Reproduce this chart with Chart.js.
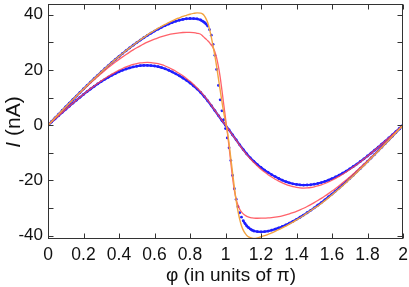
<!DOCTYPE html>
<html>
<head>
<meta charset="utf-8">
<script src="https://cdn.jsdelivr.net/npm/chart.js@4/dist/chart.umd.min.js"></script>
<style>
  html, body { margin: 0; padding: 0; background: #fff; }
</style>
</head>
<body>
<canvas id="cpr" width="409" height="287"></canvas>
<script>
// phase grid for the two large curves (finer around the jump at phi = 1)
const phiFine = [
  0, 0.02, 0.04, 0.06, 0.08, 0.1, 0.12, 0.14, 0.16, 0.18,
  0.2, 0.22, 0.24, 0.26, 0.28, 0.3, 0.32, 0.34, 0.36, 0.38,
  0.4, 0.42, 0.44, 0.46, 0.48, 0.5, 0.52, 0.54, 0.56, 0.58,
  0.6, 0.62, 0.64, 0.66, 0.68, 0.7, 0.72, 0.74, 0.76, 0.78,
  0.8, 0.82, 0.84, 0.86,
  0.87, 0.88, 0.89, 0.9, 0.91, 0.92, 0.93, 0.94, 0.95, 0.96,
  0.97, 0.98, 0.99, 1, 1.01, 1.02, 1.03, 1.04, 1.05, 1.06,
  1.07, 1.08, 1.09, 1.1, 1.11, 1.12, 1.13, 1.14, 1.15,
  1.16, 1.18, 1.2, 1.22, 1.24, 1.26, 1.28, 1.3, 1.32, 1.34,
  1.36, 1.38, 1.4, 1.42, 1.44, 1.46, 1.48, 1.5, 1.52, 1.54,
  1.56, 1.58, 1.6, 1.62, 1.64, 1.66, 1.68, 1.7, 1.72, 1.74,
  1.76, 1.78, 1.8, 1.82, 1.84, 1.86, 1.88, 1.9, 1.92, 1.94,
  1.96, 1.98, 2
];

// phase grid for the two small curves
const phiCoarse = [
  0, 0.02, 0.04, 0.06, 0.08, 0.1, 0.12, 0.14, 0.16, 0.18,
  0.2, 0.22, 0.24, 0.26, 0.28, 0.3, 0.32, 0.34, 0.36, 0.38,
  0.4, 0.42, 0.44, 0.46, 0.48, 0.5, 0.52, 0.54, 0.56, 0.58,
  0.6, 0.62, 0.64, 0.66, 0.68, 0.7, 0.72, 0.74, 0.76, 0.78,
  0.8, 0.82, 0.84, 0.86, 0.88, 0.9, 0.92, 0.94, 0.96, 0.98,
  1, 1.02, 1.04, 1.06, 1.08, 1.1, 1.12, 1.14, 1.16, 1.18,
  1.2, 1.22, 1.24, 1.26, 1.28, 1.3, 1.32, 1.34, 1.36, 1.38,
  1.4, 1.42, 1.44, 1.46, 1.48, 1.5, 1.52, 1.54, 1.56, 1.58,
  1.6, 1.62, 1.64, 1.66, 1.68, 1.7, 1.72, 1.74, 1.76, 1.78,
  1.8, 1.82, 1.84, 1.86, 1.88, 1.9, 1.92, 1.94, 1.96, 1.98,
  2
];

// measured current, large amplitude (blue dots), nA
const blueBig = [
  0, 1.34, 2.67, 4.0, 5.33, 6.65, 7.97, 9.27, 10.57, 11.86,
  13.13, 14.39, 15.64, 16.87, 18.08, 19.28, 20.45, 21.61, 22.74, 23.84,
  24.93, 25.98, 27.01, 28.01, 28.98, 29.92, 30.82, 31.69, 32.53, 33.32,
  34.08, 34.79, 35.46, 36.09, 36.66, 37.18, 37.63, 38.02, 38.33, 38.55,
  38.65, 38.61, 38.5, 38.1,
  37.7, 37.3, 36.7, 35.9, 34.6, 32.6, 29.3, 25.3, 20.2, 14.4,
  9.2, 5.2, 2.0, -1.2, -4.6, -8.2, -12.8, -18.2, -23.0, -26.8,
  -29.5, -31.7, -33.3, -34.6, -35.6, -36.5, -37.1, -37.6, -38.0,
  -38.3, -38.55, -38.65, -38.55, -38.33, -38.02, -37.63, -37.18, -36.66, -36.09,
  -35.46, -34.79, -34.08, -33.32, -32.53, -31.69, -30.82, -29.92, -28.98, -28.01,
  -27.01, -25.98, -24.93, -23.84, -22.74, -21.61, -20.45, -19.28, -18.08, -16.87,
  -15.64, -14.39, -13.13, -11.86, -10.57, -9.27, -7.97, -6.65, -5.33, -4.0,
  -2.67, -1.34, 0
];

// ideal curve (orange), nA
const orangeFit = [
  0, 1.34, 2.67, 4.0, 5.33, 6.65, 7.97, 9.27, 10.57, 11.86,
  13.13, 14.39, 15.64, 16.87, 18.08, 19.28, 20.45, 21.61, 22.74, 23.84,
  24.93, 25.98, 27.01, 28.01, 28.98, 30.0, 30.9, 31.8, 32.7, 33.5,
  34.3, 35.1, 35.8, 36.5, 37.2, 37.8, 38.4, 38.9, 39.4, 39.8,
  40.2, 40.5, 40.7, 40.6,
  40.3, 39.7, 38.6, 37.1, 34.8, 31.9, 28.6, 25.2, 21.3, 17.0,
  12.7, 8.5, 4.6, 1.3, -2.0, -6.6, -12.0, -17.3, -22.6, -27.2,
  -31.0, -34.1, -36.4, -38.0, -39.1, -39.9, -40.4, -40.7, -40.9,
  -41.0, -40.8, -40.4, -40.0, -39.5, -39.0, -38.4, -37.8, -37.2, -36.5,
  -35.8, -35.1, -34.3, -33.5, -32.7, -31.8, -30.9, -30.0, -29.3, -28.3,
  -27.3, -26.3, -25.2, -24.1, -23.0, -21.9, -20.7, -19.5, -18.3, -17.1,
  -15.8, -14.6, -13.3, -12.0, -10.7, -9.4, -8.1, -6.7, -5.4, -4.05,
  -2.7, -1.36, 0
];

// fitted curve, large amplitude (red), nA
const redBig = [
  0, 1.33, 2.66, 3.98, 5.3, 6.61, 7.91, 9.19, 10.46, 11.71,
  12.94, 14.15, 15.34, 16.5, 17.63, 18.74, 19.82, 20.87, 21.89, 22.88,
  23.84, 24.76, 25.64, 26.48, 27.28, 28.04, 28.76, 29.44, 30.07, 30.65,
  31.18, 31.66, 32.09, 32.47, 32.8, 33.08, 33.3, 33.47, 33.58, 33.62,
  33.6, 33.5, 33.3, 32.95,
  32.4, 31.8, 31.2, 30.6, 29.9, 29.0, 28.1, 26.6, 24.4, 21.3,
  17.4, 12.6, 7.6, 2.6, -2.4, -7.8, -13.6, -19.2, -23.6, -26.8,
  -28.9, -30.4, -31.4, -32.1, -32.6, -33.0, -33.25, -33.45, -33.55,
  -33.62, -33.68, -33.66, -33.62, -33.58, -33.47, -33.3, -33.08, -32.8, -32.47,
  -32.09, -31.66, -31.18, -30.65, -30.07, -29.44, -28.76, -28.04, -27.28, -26.48,
  -25.64, -24.76, -23.84, -22.88, -21.89, -20.87, -19.82, -18.74, -17.63, -16.5,
  -15.34, -14.15, -12.94, -11.71, -10.46, -9.19, -7.91, -6.61, -5.3, -3.98,
  -2.66, -1.33, 0
];

// measured current, small amplitude (blue dots), nA
const blueSmall = [
  0, 1.16, 2.32, 3.47, 4.62, 5.75, 6.87, 7.97, 9.05, 10.11,
  11.14, 12.15, 13.12, 14.05, 14.95, 15.8, 16.61, 17.38, 18.09, 18.74,
  19.34, 19.88, 20.36, 20.76, 21.1, 21.36, 21.55, 21.65, 21.67, 21.61,
  21.45, 21.21, 20.87, 20.43, 19.9, 19.3, 18.6, 17.9, 17.1, 16.25,
  15.3, 14.25, 13.1, 11.85, 10.4, 8.8, 7.1, 5.3, 3.5, 1.7,
  0, -1.7, -3.5, -5.3, -7.1, -8.8, -10.4, -11.85, -13.1, -14.25,
  -15.3, -16.25, -17.1, -17.9, -18.6, -19.3, -19.9, -20.43, -20.87, -21.21,
  -21.45, -21.61, -21.67, -21.65, -21.55, -21.36, -21.1, -20.76, -20.36, -19.88,
  -19.34, -18.74, -18.09, -17.38, -16.61, -15.8, -14.95, -14.05, -13.12, -12.15,
  -11.14, -10.11, -9.05, -7.97, -6.87, -5.75, -4.62, -3.47, -2.32, -1.16,
  0
];

// fitted curve, small amplitude (red), nA
const redSmall = [
  0, 1.16, 2.32, 3.47, 4.62, 5.75, 6.87, 7.97, 9.05, 10.13,
  11.2, 12.25, 13.25, 14.22, 15.16, 16.05, 16.92, 17.75, 18.52, 19.25,
  19.93, 20.55, 21.1, 21.6, 22.0, 22.3, 22.55, 22.7, 22.75, 22.69,
  22.52, 22.27, 21.91, 21.45, 20.9, 20.25, 19.55, 18.75, 17.9, 16.95,
  15.9, 14.75, 13.5, 12.15, 10.65, 9.0, 7.25, 5.4, 3.55, 1.75,
  0, -1.75, -3.55, -5.4, -7.25, -9.0, -10.65, -12.15, -13.5, -14.75,
  -15.9, -16.95, -17.9, -18.75, -19.55, -20.25, -20.9, -21.45, -21.91, -22.27,
  -22.52, -22.69, -22.75, -22.7, -22.55, -22.3, -22.0, -21.6, -21.1, -20.55,
  -19.93, -19.25, -18.52, -17.75, -16.92, -16.05, -15.16, -14.22, -13.25, -12.25,
  -11.2, -10.13, -9.05, -7.97, -6.87, -5.75, -4.62, -3.47, -2.32, -1.16,
  0
];

const xTicks = [0, 0.2, 0.4, 0.6, 0.8, 1, 1.2, 1.4, 1.6, 1.8, 2];
const yLabelled = [-40, -20, 0, 20, 40];

const BLUE = "#1f1fff";
const RED = "rgba(255,70,80,0.85)";
const ORANGE = "#f2a341";
const FONT = "'Liberation Sans', Arial, Helvetica, sans-serif";

function pts(xs, ys) {
  return xs.map((x, i) => ({ x: x, y: ys[i] }));
}

// hide the connecting stroke where the dots are spread apart (steep jump)
function dotLine(ctx) {
  const dx = Math.abs(ctx.p1.x - ctx.p0.x);
  const dy = Math.abs(ctx.p1.y - ctx.p0.y);
  return dy > 1.6 * dx ? "rgba(0,0,0,0)" : BLUE;
}

// frame with inward ticks on all sides, plus the axis titles
const framePlugin = {
  id: "frame",
  afterDraw(chart) {
    const { ctx, chartArea: a, scales } = chart;
    const L = Math.round(a.left) + 0.5, R = Math.round(a.right) - 0.5;
    const T = Math.round(a.top) + 0.5, B = Math.round(a.bottom) - 0.5;
    ctx.save();
    ctx.strokeStyle = "#333";
    ctx.lineWidth = 1;
    ctx.strokeRect(L, T, R - L, B - T);
    ctx.beginPath();
    scales.x.ticks.forEach(t => {
      const px = Math.round(scales.x.getPixelForValue(t.value)) + 0.5;
      ctx.moveTo(px, B); ctx.lineTo(px, B - 5);
      ctx.moveTo(px, T); ctx.lineTo(px, T + 5);
    });
    scales.y.ticks.forEach(t => {
      const py = Math.round(scales.y.getPixelForValue(t.value)) + 0.5;
      ctx.moveTo(L, py); ctx.lineTo(L + 5, py);
      ctx.moveTo(R, py); ctx.lineTo(R - 5, py);
    });
    ctx.stroke();

    ctx.fillStyle = "#111";
    ctx.textBaseline = "alphabetic";
    ctx.font = "19px " + FONT;
    ctx.textAlign = "center";
    ctx.fillText("φ (in units of π)", 231, 281);

    ctx.translate(20, 122);
    ctx.rotate(-Math.PI / 2);
    ctx.font = "italic 21px " + FONT;
    const wI = ctx.measureText("I").width;
    ctx.font = "21px " + FONT;
    const wRest = ctx.measureText(" (nA)").width;
    const x0 = -(wI + wRest) / 2;
    ctx.textAlign = "left";
    ctx.font = "italic 21px " + FONT;
    ctx.fillText("I", x0, 0);
    ctx.font = "21px " + FONT;
    ctx.fillText(" (nA)", x0 + wI, 0);
    ctx.restore();
  }
};

new Chart(document.getElementById("cpr"), {
  type: "scatter",
  data: {
    datasets: [
      {
        label: "ideal",
        data: pts(phiFine, orangeFit),
        showLine: true,
        borderColor: ORANGE,
        borderWidth: 1.4,
        pointRadius: 0,
        cubicInterpolationMode: "monotone",
        order: 1
      },
      {
        label: "fit large",
        data: pts(phiFine, redBig),
        showLine: true,
        borderColor: RED,
        borderWidth: 1.3,
        pointRadius: 0,
        cubicInterpolationMode: "monotone",
        order: 2
      },
      {
        label: "fit small",
        data: pts(phiCoarse, redSmall),
        showLine: true,
        borderColor: RED,
        borderWidth: 1.3,
        pointRadius: 0,
        cubicInterpolationMode: "monotone",
        order: 2
      },
      {
        label: "data large",
        data: pts(phiFine, blueBig),
        showLine: true,
        borderColor: BLUE,
        borderWidth: 2.2,
        segment: { borderColor: dotLine },
        pointRadius: 1.4,
        pointBorderWidth: 0,
        pointBackgroundColor: BLUE,
        order: 3
      },
      {
        label: "data small",
        data: pts(phiCoarse, blueSmall),
        showLine: true,
        borderColor: BLUE,
        borderWidth: 2.2,
        pointRadius: 1.4,
        pointBorderWidth: 0,
        pointBackgroundColor: BLUE,
        order: 3
      }
    ]
  },
  options: {
    responsive: false,
    animation: false,
    devicePixelRatio: 1,
    layout: { padding: { top: 1, right: 6, left: 0, bottom: 0 } },
    plugins: { legend: { display: false }, tooltip: { enabled: false } },
    scales: {
      x: {
        type: "linear",
        min: 0,
        max: 2,
        grid: { display: false, drawTicks: false },
        border: { display: false },
        afterBuildTicks: s => { s.ticks = xTicks.map(v => ({ value: v })); },
        ticks: {
          autoSkip: false,
          maxRotation: 0,
          padding: 6,
          color: "#111",
          font: { family: FONT, size: 17.5 },
          callback: v => String(+v.toFixed(1))
        },
        afterFit: s => {
          s.height = 48;
          s.paddingLeft = 0; s.paddingRight = 0;
        }
      },
      y: {
        min: -41.2,
        max: 43.9,
        grid: { display: false, drawTicks: false },
        border: { display: false },
        ticks: {
          stepSize: 10,
          includeBounds: false,
          padding: 5,
          color: "#111",
          font: { family: FONT, size: 17 },
          callback: v => (yLabelled.includes(Math.round(v)) ? String(Math.round(v)) : "")
        },
        afterFit: s => {
          s.width = 48;
          s.paddingTop = 0; s.paddingBottom = 0;
        }
      }
    }
  },
  plugins: [framePlugin]
});
</script>
</body>
</html>
